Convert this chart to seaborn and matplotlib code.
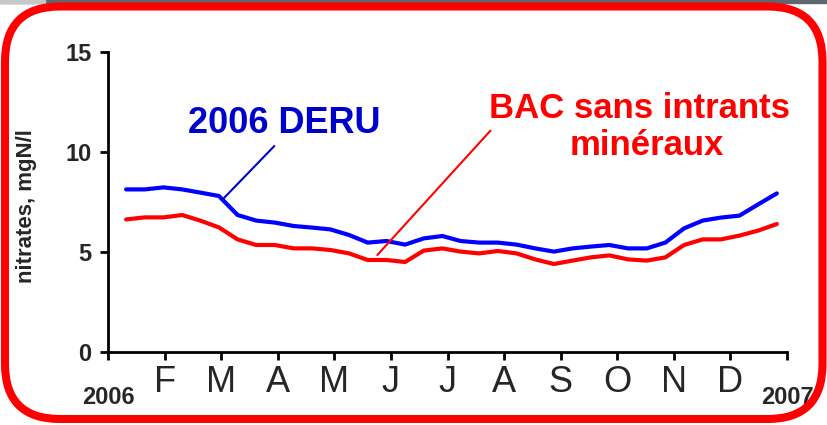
import matplotlib
matplotlib.use("Agg")
import matplotlib.pyplot as plt
from matplotlib.patches import FancyBboxPatch, Rectangle
import seaborn as sns
import pandas as pd

# ---- data ----
month_pos = [0.32, 0.65, 0.98, 1.31, 1.63, 1.96, 2.29, 2.62, 2.95, 3.28, 3.61, 3.93,
             4.26, 4.59, 4.92, 5.25, 5.58, 5.91, 6.23, 6.56, 6.89, 7.22, 7.55, 7.88,
             8.21, 8.53, 8.86, 9.19, 9.52, 9.85, 10.18, 10.51, 10.83, 11.16, 11.49, 11.82]
deru = [8.13, 8.13, 8.23, 8.13, 7.97, 7.80, 6.85, 6.57, 6.47, 6.30, 6.22, 6.13,
        5.85, 5.47, 5.55, 5.37, 5.68, 5.80, 5.55, 5.47, 5.47, 5.37, 5.18, 5.02,
        5.18, 5.27, 5.35, 5.18, 5.18, 5.47, 6.18, 6.57, 6.72, 6.82, 7.38, 7.93]
bac = [6.63, 6.73, 6.73, 6.85, 6.57, 6.23, 5.63, 5.35, 5.35, 5.18, 5.18, 5.10,
       4.93, 4.60, 4.60, 4.50, 5.07, 5.18, 5.02, 4.93, 5.05, 4.93, 4.63, 4.40,
       4.57, 4.73, 4.83, 4.63, 4.57, 4.73, 5.35, 5.63, 5.63, 5.82, 6.07, 6.40]
month_labels = ["", "F", "M", "A", "M", "J", "J", "A", "S", "O", "N", "D", ""]
year_labels = ["2006", "2007"]
y_ticks = [0, 5, 10, 15]
label_deru = "2006 DERU"
label_bac = ["BAC sans intrants", "minéraux"]

df = pd.DataFrame({"mois": month_pos * 2,
                   "nitrates": deru + bac,
                   "serie": [label_deru] * len(deru) + ["BAC"] * len(bac)})

sns.set_style("white")
plt.rcParams["font.family"] = ["Liberation Sans", "DejaVu Sans"]

fig = plt.figure(figsize=(8.27, 4.25), dpi=100)
ax = fig.add_axes([108 / 827, 1 - 352 / 425, (787 - 108) / 827, 300 / 425])

sns.lineplot(data=df, x="mois", y="nitrates", hue="serie",
             palette={label_deru: "#0000FF", "BAC": "#FF0000"},
             linewidth=3.0, ax=ax, legend=False, estimator=None, sort=False)

ax.set_xlim(0, 12)
ax.set_ylim(0, 15)
ax.set_xticks(range(13))
ax.set_xticklabels(month_labels, fontsize=26)
ax.set_yticks(y_ticks)
ax.set_yticklabels([str(v) for v in y_ticks], fontsize=17, fontweight="bold")
ax.set_xlabel("")
ax.set_ylabel("nitrates, mgN/l", fontsize=16, fontweight="bold")
ax.yaxis.set_label_coords(-0.1046, 0.487)

for s in ["top", "right"]:
    ax.spines[s].set_visible(False)
for s in ["left", "bottom"]:
    ax.spines[s].set_linewidth(2)
    ax.spines[s].set_color("black")
ax.tick_params(axis="both", which="both", direction="out", length=6, width=2,
               color="black", left=True, bottom=True)
ax.tick_params(axis="x", pad=3)
ax.tick_params(axis="y", pad=6)

# year labels under the first and last ticks
for xv, lab in zip([0, 12], year_labels):
    ax.text(xv, -2.25, lab, ha="center", va="center", fontsize=17,
            fontweight="bold", clip_on=False, zorder=1)

# annotations
ax.text(3.12, 10.95, label_deru, color="#0000CC", fontsize=26, fontweight="bold",
        ha="center", va="baseline")
ax.plot([2.94, 2.05], [10.3, 7.7], color="#0000CC", lw=1.5)
ax.text(9.4, 11.7, label_bac[0], color="#FF0000", fontsize=25, fontweight="bold",
        ha="center", va="baseline")
ax.text(9.52, 9.85, label_bac[1], color="#FF0000", fontsize=25, fontweight="bold",
        ha="center", va="baseline")
ax.plot([6.76, 4.76], [11.07, 4.85], color="#FF0000", lw=1.5)

# top strip
fig.patches.append(Rectangle((0, 1 - 3 / 425), 1, 3 / 425, transform=fig.transFigure,
                             color="#5c6770", zorder=0))
fig.patches.append(Rectangle((0, 1 - 3 / 425), 45 / 827, 3 / 425, transform=fig.transFigure,
                             color="#c4c8c8", zorder=0))
# red rounded frame
frame = FancyBboxPatch((0.05, 0.06), 8.175, 4.125,
                       boxstyle="round,pad=0,rounding_size=0.55",
                       transform=fig.dpi_scale_trans, fill=False,
                       edgecolor="#FF0000", linewidth=5.8, zorder=10)
fig.patches.append(frame)

fig.savefig("out.png", dpi=100)
